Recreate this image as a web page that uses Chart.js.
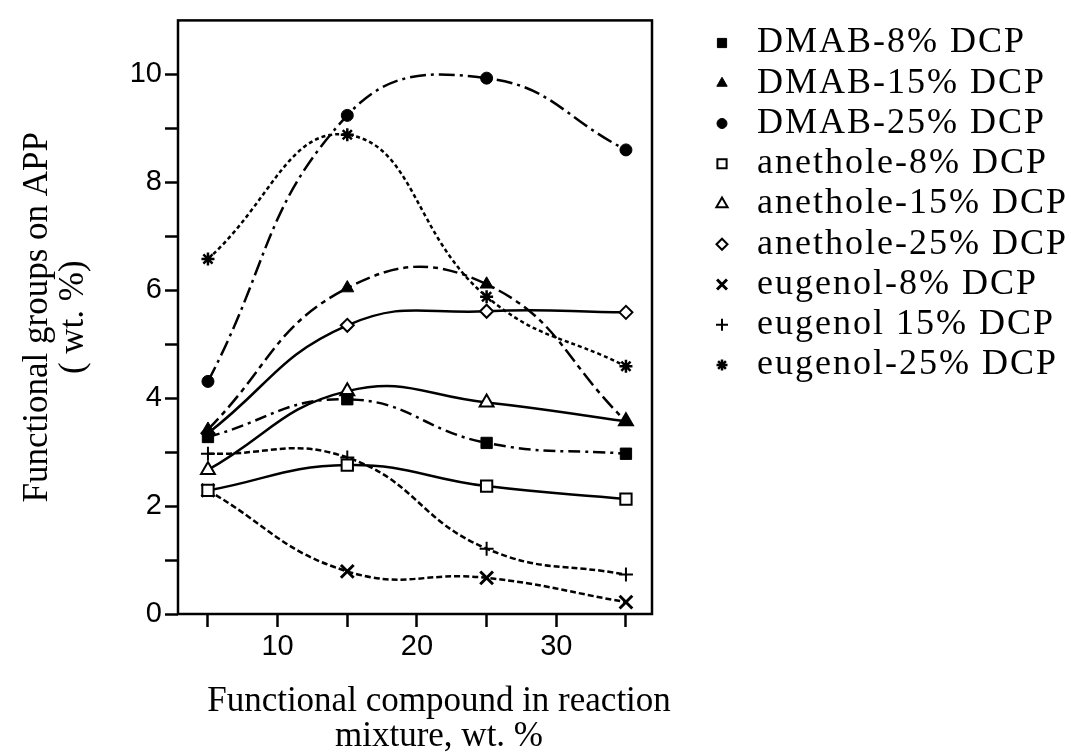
<!DOCTYPE html>
<html>
<head>
<meta charset="utf-8">
<script src="https://cdn.jsdelivr.net/npm/chart.js@4/dist/chart.umd.min.js"></script>
<style>
  html, body { margin: 0; padding: 0; background: #fff; }
  #wrap { width: 1071px; height: 754px; position: relative; }
</style>
</head>
<body>
<div id="wrap"><canvas id="c"></canvas></div>
<script>
// ---- data ----
const xValues = [5, 15, 25, 35];
const dmab8 = [3.28, 3.98, 3.17, 2.97];
const dmab15 = [3.42, 6.04, 6.11, 3.57];
const dmab25 = [4.31, 9.24, 9.93, 8.60];
const anethole8 = [2.29, 2.76, 2.37, 2.13];
const anethole15 = [2.67, 4.13, 3.92, 3.57];
const anethole25 = [3.35, 5.35, 5.61, 5.59];
const eugenol8 = [2.29, 0.79, 0.67, 0.22];
const eugenol15 = [2.97, 2.90, 1.21, 0.73];
const eugenol25 = [6.58, 8.88, 5.88, 4.59];
const seriesNames = ['DMAB-8% DCP', 'DMAB-15% DCP', 'DMAB-25% DCP', 'anethole-8% DCP',
  'anethole-15% DCP', 'anethole-25% DCP', 'eugenol-8% DCP', 'eugenol 15% DCP', 'eugenol-25% DCP'];
const xTickValues = [5, 10, 15, 20, 25, 30, 35];
const xTickLabels = ['', '10', '', '20', '', '30', ''];
const yTickValues = [0, 1, 2, 3, 4, 5, 6, 7, 8, 9, 10];
const yTickLabels = ['0', '', '2', '', '4', '', '6', '', '8', '', '10'];
const xTitle = ['Functional compound in reaction', 'mixture, wt. %'];
const yTitle = ['Functional groups on APP', '( wt. %)'];

// ---- styles ----
const seriesValues = [dmab8, dmab15, dmab25, anethole8, anethole15, anethole25, eugenol8, eugenol15, eugenol25];
const styles = [
  { ps: 'rect', fill: '#000', r: 8, lr: 6.5, bw: 1, dash: [12, 5, 3, 5] },
  { ps: 'triangle', fill: '#000', r: 7.5, lr: 6, bw: 1, dash: [15, 5, 5, 5] },
  { ps: 'circle', fill: '#000', r: 6, lr: 5, bw: 1, dash: [16, 5, 3, 5] },
  { ps: 'rect', fill: '#fff', r: 8, lr: 6.5, bw: 2, dash: [] },
  { ps: 'triangle', fill: '#fff', r: 8, lr: 6.5, bw: 2, dash: [] },
  { ps: 'rectRot', fill: '#fff', r: 6.5, lr: 5.5, bw: 2, dash: [] },
  { ps: 'crossRot', fill: '#000', r: 9, lr: 7, bw: 3, dash: [6, 3] },
  { ps: 'cross', fill: '#000', r: 7, lr: 6, bw: 2, dash: [6, 3] },
  { ps: 'star', fill: '#000', r: 6.5, lr: 5.5, bw: 2.5, dash: [4, 3] }
];

const datasets = seriesValues.map((vals, i) => ({
  label: seriesNames[i],
  data: xValues.map((x, j) => ({ x: x, y: vals[j] })),
  borderColor: '#000',
  backgroundColor: '#000',
  borderWidth: 2.5,
  borderDash: styles[i].dash,
  tension: 0.45,
  fill: false,
  pointStyle: styles[i].ps,
  pointRadius: styles[i].r,
  pointBackgroundColor: styles[i].fill,
  pointBorderColor: '#000',
  pointBorderWidth: styles[i].bw
}));

const serif = '"Liberation Serif", "Times New Roman", serif';
const sans = '"Liberation Sans", Arial, sans-serif';

const framePlugin = {
  id: 'frame',
  afterDraw(chart) {
    const { ctx, chartArea: a } = chart;
    ctx.save();
    ctx.strokeStyle = '#000';
    ctx.lineWidth = 2.5;
    ctx.strokeRect(a.left, a.top, a.right - a.left, a.bottom - a.top);
    ctx.restore();
  }
};

// x-axis title, slightly right of the plot centre as in the original figure
const xTitlePlugin = {
  id: 'xTitle',
  afterDraw(chart) {
    const { ctx, chartArea: a } = chart;
    const cx = (a.left + a.right) / 2 + 24;
    ctx.save();
    ctx.fillStyle = '#000';
    ctx.font = '35px ' + serif;
    ctx.textAlign = 'center';
    ctx.textBaseline = 'middle';
    xTitle.forEach((line, i) => ctx.fillText(line, cx, a.bottom + 87.5 + i * 35));
    ctx.restore();
  }
};

const legendPlugin = {
  id: 'sideLegend',
  afterDraw(chart) {
    const ctx = chart.ctx;
    const markerX = 722, textX = 757, y0 = 43, step = 40.25;
    ctx.save();
    chart.data.datasets.forEach((ds, i) => {
      const y = y0 + i * step;
      const st = styles[i];
      ctx.fillStyle = st.fill;
      ctx.strokeStyle = '#000';
      ctx.lineWidth = st.bw;
      ctx.setLineDash([]);
      Chart.helpers.drawPoint(ctx, { pointStyle: st.ps, radius: st.lr, rotation: 0, borderWidth: st.bw }, markerX, y);
      ctx.fillStyle = '#000';
      ctx.font = '36px ' + serif;
      if ('letterSpacing' in ctx) ctx.letterSpacing = '2px';
      ctx.textAlign = 'left';
      ctx.textBaseline = 'middle';
      ctx.fillText(ds.label, textX, y);
      if ('letterSpacing' in ctx) ctx.letterSpacing = '0px';
    });
    ctx.restore();
  }
};

new Chart(document.getElementById('c'), {
  type: 'line',
  data: { datasets: datasets },
  plugins: [framePlugin, xTitlePlugin, legendPlugin],
  options: {
    responsive: true,
    maintainAspectRatio: false,
    animation: false,
    layout: { padding: { left: 0, right: 419, top: 13.5, bottom: 0 } },
    plugins: { legend: { display: false }, tooltip: { enabled: false } },
    scales: {
      x: {
        type: 'linear',
        min: 2.85, max: 36.87,
        afterBuildTicks: s => { s.ticks = xTickValues.map(v => ({ value: v })); },
        afterFit: s => { s.height = 140; },
        ticks: {
          autoSkip: false, maxRotation: 0, padding: 3, color: '#000',
          font: { family: sans, size: 29 },
          callback: v => xTickLabels[xTickValues.indexOf(v)]
        },
        grid: { display: true, drawOnChartArea: false, drawTicks: true, tickLength: 13, tickWidth: 2.5, tickColor: '#000' },
        border: { display: false },
        title: { display: false, text: xTitle }
      },
      y: {
        type: 'linear',
        min: 0, max: 11,
        afterBuildTicks: s => { s.ticks = yTickValues.map(v => ({ value: v })); },
        afterFit: s => { s.width = 178; },
        ticks: {
          autoSkip: false, padding: 3, color: '#000',
          font: { family: sans, size: 29 },
          callback: v => yTickLabels[yTickValues.indexOf(v)]
        },
        grid: { display: true, drawOnChartArea: false, drawTicks: true, tickLength: 13, tickWidth: 2.5, tickColor: '#000' },
        border: { display: false },
        title: { display: true, text: yTitle, color: '#000', font: { family: serif, size: 35, lineHeight: 36 / 35 }, padding: { top: 20, bottom: 0 } }
      }
    }
  }
});
</script>
</body>
</html>
